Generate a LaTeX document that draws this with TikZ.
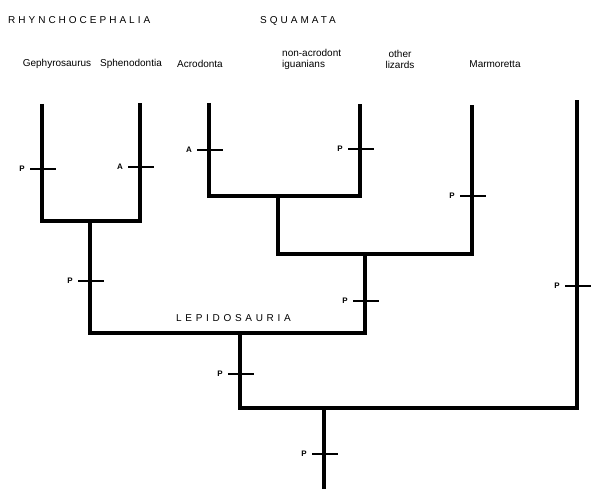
\documentclass[tikz,border=0pt]{standalone}
\usepackage{fontspec}
\setmainfont{Liberation Sans}
\begin{document}
\begin{tikzpicture}[x=1pt,y=-1pt,
  branch/.style={line width=3.6pt,line join=miter,line cap=butt},
  tickline/.style={line width=1.3pt},
  ticklab/.style={font=\fontsize{8}{8}\selectfont\bfseries,inner sep=0pt,anchor=east},
  taxon/.style={font=\fontsize{10}{11}\selectfont,inner sep=0pt,align=center},
  grp/.style={font=\fontsize{10}{10}\selectfont\addfontfeature{LetterSpace=30},inner sep=0pt}]
\useasboundingbox (0,0) rectangle (606,489);
% tips
\coordinate (g) at (42,104);
\coordinate (s) at (140,103);
\coordinate (ac) at (209,103);
\coordinate (na) at (360,104);
\coordinate (ol) at (472,105);
\coordinate (m) at (577,100);
% internal nodes
\coordinate (rh) at (90,221);
\coordinate (ig) at (278,196);
\coordinate (sq) at (365,254);
\coordinate (le) at (240,333);
\coordinate (rt) at (324,408);
\coordinate (base) at (324,489);
% branches
\draw[branch] (g) |- (rh) -| (s);
\draw[branch] (ac) |- (ig) -| (na);
\draw[branch] (ig) |- (sq) -| (ol);
\draw[branch] (rh) |- (le) -| (sq);
\draw[branch] (le) |- (rt) -| (m);
\draw[branch] (rt) -- (base);
% ticks
\newcommand{\charmark}[4]{%
  \coordinate (#4) at (#1,#2);
  \draw[tickline] ([xshift=-12pt]#4) -- ([xshift=14pt]#4);
  \node[ticklab] (#4l) at ([xshift=-17pt]#4) {#3};}
\charmark{42}{169}{P}{t1}
\charmark{140}{167}{A}{t2}
\charmark{209}{150}{A}{t3}
\charmark{360}{149}{P}{t4}
\charmark{472}{196}{P}{t5}
\charmark{90}{281}{P}{t6}
\charmark{365}{301}{P}{t7}
\charmark{577}{286}{P}{t8}
\charmark{240}{374}{P}{t9}
\charmark{324}{454}{P}{t10}
% labels
\node[grp,anchor=west] (rhy) at (8,20.5) {RHYNCHOCEPHALIA};
\node[grp,anchor=west] (squ) at (260,20.5) {SQUAMATA};
\node[grp,anchor=west,font=\fontsize{10}{10}\selectfont\addfontfeature{LetterSpace=37}] (lep) at (176,318) {LEPIDOSAURIA};
\node[taxon] (lg) at (57,64) {Gephyrosaurus};
\node[taxon] (ls) at (131,64) {Sphenodontia};
\node[taxon] (la) at (200,64) {Acrodonta};
\node[taxon,align=left,anchor=west] (lna) at (282,59) {non-acrodont\\iguanians};
\node[taxon] (lol) at (400,59) {other\\lizards};
\node[taxon] (lm) at (495,64) {Marmoretta};
\end{tikzpicture}
\end{document}
